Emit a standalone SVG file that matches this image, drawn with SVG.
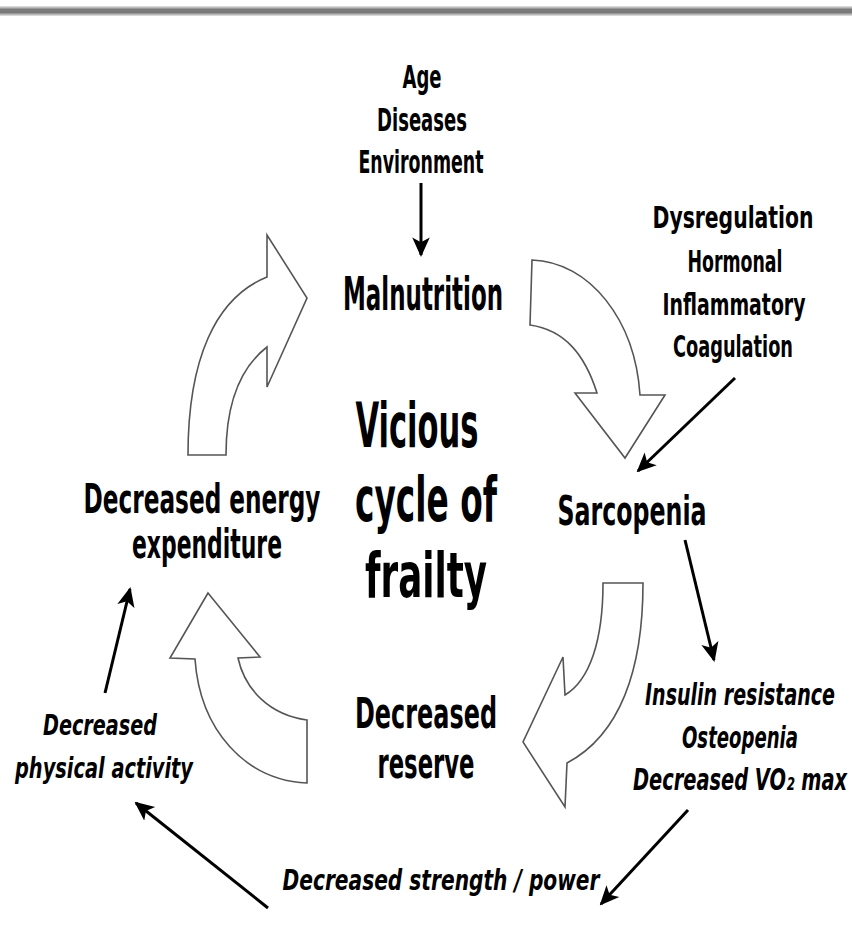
<svg xmlns="http://www.w3.org/2000/svg" width="852" height="930" viewBox="0 0 852 930">
<defs>
<linearGradient id="bar" x1="0" y1="0" x2="0" y2="1">
<stop offset="0" stop-color="#e8e8e8"/>
<stop offset="0.35" stop-color="#7a7a7a"/>
<stop offset="0.65" stop-color="#7a7a7a"/>
<stop offset="1" stop-color="#e8e8e8"/>
</linearGradient>
<marker id="ah" viewBox="0 0 10 10" refX="9" refY="5" markerWidth="6.5" markerHeight="6.5" orient="auto" markerUnits="strokeWidth">
<path d="M0,0.5 L10,5 L0,9.5 L2.5,5 Z" fill="#000"/>
</marker>
<style>
.block{fill:#fff;stroke:#555;stroke-width:1.6;stroke-linejoin:miter}
.conn{fill:none;stroke:#000;stroke-width:3;marker-end:url(#ah)}
text{font-family:"DejaVu Sans Condensed","DejaVu Sans",sans-serif;fill:#000;text-anchor:middle}
.main{font-weight:bold}
.list{font-weight:bold}
.it{font-style:italic;font-weight:bold}
</style>
</defs>
<rect x="0" y="6" width="852" height="10" fill="url(#bar)"/>

<g id="block-arrows">
<path class="block" d="M188,455 L226,455 C226,405 240,368 267,347 L267,387 L307,298 L267,235 L267,277 C215,298 188,360 188,455 Z"/>
<path class="block" d="M532,260 C590,262 635,320 640,395 L665,395 L625,458 L575,393 L597,393 C585,355 565,330 530,325 Z"/>
<path class="block" d="M603,583 L643,583 C643,670 620,735 567,763 L565,807 L523,742 L563,657 L565,695 C590,680 603,640 603,583 Z"/>
<path class="block" d="M208,593 L260,657 L238,658 C245,690 270,715 307,720 L307,783 C245,780 200,730 195,659 L170,658 Z"/>
</g>

<g id="connectors">
<line class="conn" x1="421" y1="183" x2="421" y2="255"/>
<line class="conn" x1="735" y1="378" x2="638" y2="471"/>
<line class="conn" x1="685" y1="540" x2="714" y2="660"/>
<line class="conn" x1="688" y1="810" x2="601" y2="904"/>
<line class="conn" x1="268" y1="908" x2="136" y2="803"/>
<line class="conn" x1="105" y1="693" x2="130" y2="589"/>
</g>

<g id="causes">
<text class="list" x="422" y="88" font-size="32" textLength="39" lengthAdjust="spacingAndGlyphs">Age</text>
<text class="list" x="422" y="131" font-size="32" textLength="90" lengthAdjust="spacingAndGlyphs">Diseases</text>
<text class="list" x="421" y="173" font-size="32" textLength="125" lengthAdjust="spacingAndGlyphs">Environment</text>
</g>

<g id="malnutrition">
<text class="main" x="423" y="310" font-size="46" textLength="160" lengthAdjust="spacingAndGlyphs">Malnutrition</text>
</g>

<g id="dysregulation">
<text class="list" x="733" y="228" font-size="31" textLength="161" lengthAdjust="spacingAndGlyphs">Dysregulation</text>
<text class="list" x="735" y="272" font-size="31" textLength="95" lengthAdjust="spacingAndGlyphs">Hormonal</text>
<text class="list" x="734" y="315" font-size="31" textLength="143" lengthAdjust="spacingAndGlyphs">Inflammatory</text>
<text class="list" x="733" y="357" font-size="31" textLength="120" lengthAdjust="spacingAndGlyphs">Coagulation</text>
</g>

<g id="center">
<text class="main" x="417" y="447" font-size="62" textLength="123" lengthAdjust="spacingAndGlyphs">Vicious</text>
<text class="main" x="426" y="521" font-size="62" textLength="142" lengthAdjust="spacingAndGlyphs">cycle of</text>
<text class="main" x="426" y="597" font-size="62" textLength="122" lengthAdjust="spacingAndGlyphs">frailty</text>
</g>

<g id="energy">
<text class="main" x="202" y="513" font-size="40" textLength="237" lengthAdjust="spacingAndGlyphs">Decreased energy</text>
<text class="main" x="207" y="558" font-size="40" textLength="150" lengthAdjust="spacingAndGlyphs">expenditure</text>
</g>

<g id="sarcopenia">
<text class="main" x="632" y="525" font-size="40" textLength="149" lengthAdjust="spacingAndGlyphs">Sarcopenia</text>
</g>

<g id="reserve">
<text class="main" x="426" y="728" font-size="42" textLength="142" lengthAdjust="spacingAndGlyphs">Decreased</text>
<text class="main" x="426" y="778" font-size="42" textLength="97" lengthAdjust="spacingAndGlyphs">reserve</text>
</g>

<g id="effects">
<text class="it" x="740" y="705" font-size="30" textLength="190" lengthAdjust="spacingAndGlyphs">Insulin resistance</text>
<text class="it" x="740" y="748" font-size="30" textLength="116" lengthAdjust="spacingAndGlyphs">Osteopenia</text>
<text class="it" x="740" y="790" font-size="30" textLength="214" lengthAdjust="spacingAndGlyphs">Decreased VO₂ max</text>
</g>

<g id="strength">
<text class="it" x="441" y="890" font-size="29" textLength="317" lengthAdjust="spacingAndGlyphs">Decreased strength / power</text>
</g>

<g id="physical">
<text class="it" x="100" y="735" font-size="29" textLength="114" lengthAdjust="spacingAndGlyphs">Decreased</text>
<text class="it" x="104" y="778" font-size="29" textLength="178" lengthAdjust="spacingAndGlyphs">physical activity</text>
</g>
</svg>
